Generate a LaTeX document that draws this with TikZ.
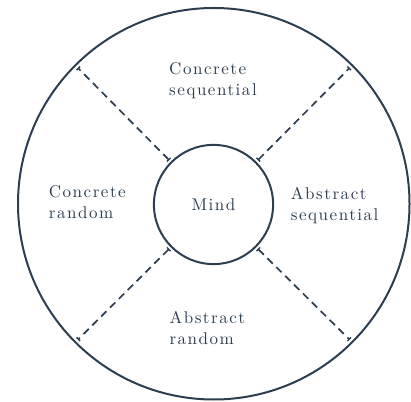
\documentclass[tikz,border=0pt]{standalone}
\usepackage{fontspec}
\setmainfont{lmroman10-regular}[Extension=.otf,LetterSpace=9]
\usetikzlibrary{arrows.meta}
\definecolor{navy}{HTML}{2C3E50}
\begin{document}
\begin{tikzpicture}[x=1pt,y=1pt,
  ring/.style={circle,draw=navy,line width=2pt,inner sep=0pt,outer sep=0pt},
  divider/.style={draw=navy,line width=1.7pt,dash pattern=on 7.5pt off 5pt,
    {Bar[width=5pt,line width=1.4pt]}-{Bar[width=5pt,line width=1.4pt]},
    shorten <=3pt, shorten >=3.5pt},
  label/.style={anchor=north west,inner sep=0pt,align=left,text=navy,
    font=\fontsize{17}{21}\selectfont}]
\useasboundingbox (0,0) rectangle (411,401);
\node[ring,minimum size=391.5pt] (outer) at (213.75,197.25) {};
\node[ring,minimum size=119.2pt,text=navy,font=\fontsize{17}{21}\selectfont] (mind) at (213.5,196.5) {Mind};
\foreach \a in {45,135,225,315}{
  \draw[divider] (mind.\a) -- (outer.\a);
}
\node[label] (cs) at (169,339) {Concrete\\sequential};
\node[label] (cr) at (48.7,216) {Concrete\\random};
\node[label] (as) at (290.7,214.3) {Abstract\\sequential};
\node[label] (ar) at (169.3,90.3) {Abstract\\random};
\end{tikzpicture}
\end{document}
